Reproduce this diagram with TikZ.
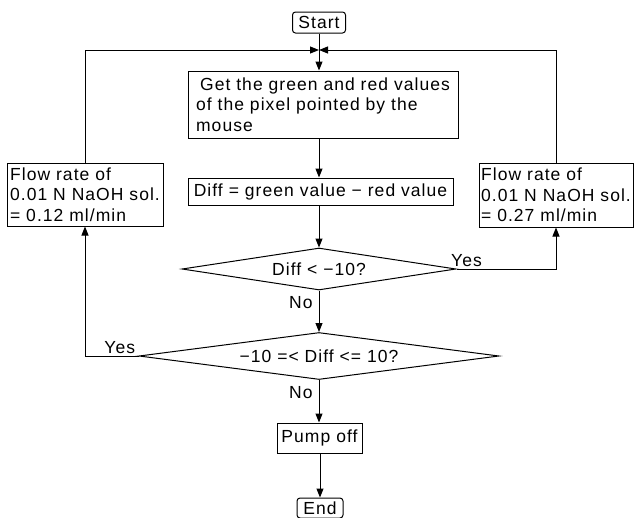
\documentclass[tikz,border=0pt]{standalone}
\usepackage{fontspec}
\setmainfont{Liberation Sans}[LetterSpace=6]
\usetikzlibrary{shapes.geometric,arrows.meta}
\begin{document}
\begin{tikzpicture}[x=1pt,y=-1pt,
  every node/.style={font=\fontsize{17.5}{20.5}\selectfont},
  box/.style={draw,line width=1pt,inner xsep=2pt,inner ysep=0pt,align=left},
  term/.style={box,rounded corners=3pt},
  dec/.style={draw,line width=1pt,shape=diamond,inner sep=0pt},
  conn/.style={line width=1pt},
  arr/.style={conn,-{Triangle[length=9pt,width=7pt]}},
  lbl/.style={inner sep=2pt}
]
\useasboundingbox (0,0) rectangle (634,517);
\node[term,minimum width=53pt,minimum height=21pt] (start) at (319,22.5) {Start};
\coordinate (j) at (319,50);
\node[box,minimum width=270pt,minimum height=67pt] (get) at (323,104.5)
  {\hspace{4pt}Get the green and red values\\of the pixel pointed by the\\mouse};
\node[box,minimum width=265pt,minimum height=27pt] (diff) at (320.5,191.5)
  {Diff = green value − red value};
\node[box,minimum width=156pt,minimum height=63pt] (lbox) at (85,194.5)
  {Flow rate of\\0.01 N NaOH sol.\\= 0.12 ml/min};
\node[box,minimum width=154pt,minimum height=64pt] (rbox) at (556,195)
  {Flow rate of\\0.01 N NaOH sol.\\= 0.27 ml/min};
\node[dec,minimum width=274pt,minimum height=42pt,shape aspect=6.5] (d1) at (319,269) {Diff < −10?};
\node[dec,minimum width=360pt,minimum height=47pt,shape aspect=7.6] (d2) at (319,356) {−10 =< Diff <= 10?};
\node[box,minimum width=85pt,minimum height=30pt] (pump) at (319.5,438) {Pump off};
\node[term,minimum width=46pt,minimum height=20pt] (end) at (320,508) {End};

\draw[conn] (start) -- (j);
\draw[arr] (j) -- (get.north -| j);
\draw[arr] (get.south -| j) -- (diff.north -| j);
\draw[arr] (diff.south -| j) -- (d1.north);
\draw[arr] (d1.south) -- node[lbl,pos=0.3,left=4pt]{No} (d2.north);
\draw[arr] (d2.south) -- node[lbl,pos=0.3,left=4pt]{No} (pump.north -| d2.south);
\draw[arr] (pump.south -| end.north) -- (end.north);
\draw[arr] (d1.east) -- node[lbl,pos=0.1,above]{Yes} (d1.east -| rbox.south) -- (rbox.south);
\draw[arr] (rbox.north) |- (j);
\draw[arr] (d2.west) -- node[lbl,pos=0.35,above]{Yes} (d2.west -| lbox.south) -- (lbox.south);
\draw[arr] (lbox.north) |- (j);
\end{tikzpicture}
\end{document}
